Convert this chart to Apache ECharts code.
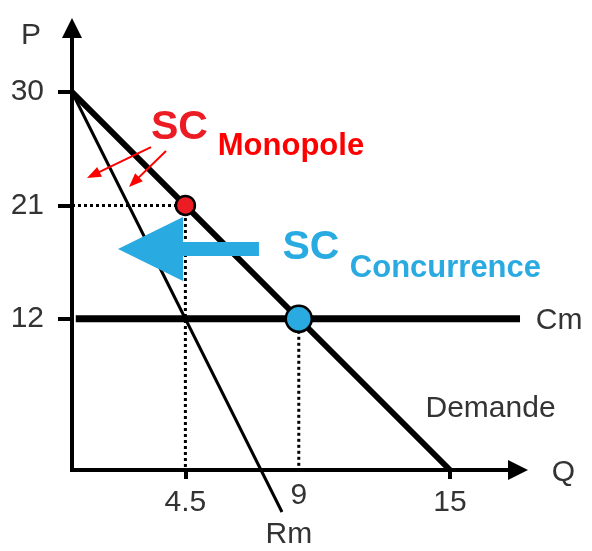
<!DOCTYPE html>
<html>
<head>
<meta charset="utf-8">
<script src="https://cdn.jsdelivr.net/npm/echarts@6/dist/echarts.min.js"></script>
<style>
  html, body { margin: 0; padding: 0; background: #fff; }
  #chart { width: 592px; height: 551px; }
</style>
</head>
<body>
<div id="chart"></div>
<script>
// ---- data ----
const qTicks = [4.5, 15];          // ticks with marks on Q axis
const qExtraLabel = [9];           // label without tick
const pTicks = [12, 21, 30];
const demandQ = [0, 15];
const demandP = [30, 0];
const mrQ = [0, 8.333];
const mrP = [30, -3.333];
const mcQ = [0.15, 17.78];
const mcP = [12, 12];
const monopolyEq = [4.5, 21];
const competitionEq = [9, 12];
const monopolyGuide = [[0, 21], [4.5, 21], [4.5, 0]];
const competitionGuide = [[9, 12], [9, 0]];
// annotation anchors (data coordinates)
const bigArrow = [[7.42, 17.54], [3.115, 17.54]];
const smallArrows = [
  [[3.135, 25.63], [0.845, 23.42]],
  [[3.73, 25.32], [2.46, 22.85]]
];
const textNames = ['P', 'Q', 'Cm', 'Demande', 'Rm', 'SC', 'Monopole', 'SC', 'Concurrence'];
const textPosQ = [-1.627, 19.5, 19.33, 16.61, 8.61, 4.266, 8.69, 9.48, 14.82];
const textPosP = [34.48, -0.2, 11.83, 4.84, -5.16, 27.14, 25.67, 17.66, 16.03];

const FONT = '"Liberation Sans", Arial, sans-serif';
const red = '#ec1c24';
const red2 = '#ff0000';
const blue = '#29abe2';
const grey = '#333333';

const textStyles = [
  { fontSize: 30, color: grey },
  { fontSize: 30, color: grey },
  { fontSize: 30, color: grey },
  { fontSize: 30, color: grey },
  { fontSize: 30, color: grey },
  { fontSize: 41, color: red, fontWeight: 'bold' },
  { fontSize: 31, color: red2, fontWeight: 'bold' },
  { fontSize: 41, color: blue, fontWeight: 'bold' },
  { fontSize: 31, color: blue, fontWeight: 'bold' }
];

const pairs = (xs, ys) => xs.map((x, i) => [x, ys[i]]);

const chart = echarts.init(document.getElementById('chart'), null, { renderer: 'canvas' });

const axisLineStyle = { color: '#000', width: 4, cap: 'square' };
const labelBase = { fontSize: 30, color: grey, fontFamily: FONT };

chart.setOption({
  animation: false,
  backgroundColor: '#fff',
  grid: { left: 72, right: 74, top: 28, bottom: 81, containLabel: false },
  xAxis: [{
    type: 'value', min: 0, max: 17.7,
    axisLine: { show: true, onZero: false, symbol: ['none', 'triangle'], symbolSize: [20, 20], lineStyle: axisLineStyle },
    axisTick: { show: true, customValues: qTicks, length: 9, lineStyle: { color: '#000', width: 4 } },
    axisLabel: Object.assign({ customValues: qTicks, margin: 18 }, labelBase),
    splitLine: { show: false }
  }, {
    type: 'value', min: 0, max: 17.7, position: 'bottom', gridIndex: 0,
    axisLine: { show: false },
    axisTick: { show: false },
    axisLabel: Object.assign({ customValues: qExtraLabel, margin: 11 }, labelBase),
    splitLine: { show: false }
  }],
  yAxis: {
    type: 'value', min: 0, max: 35.08,
    axisLine: { show: true, onZero: false, symbol: ['none', 'triangle'], symbolSize: [20, 20], lineStyle: axisLineStyle },
    axisTick: { show: true, customValues: pTicks, length: 14, lineStyle: { color: '#000', width: 4 } },
    axisLabel: Object.assign({ customValues: pTicks, margin: 28 }, labelBase),
    splitLine: { show: false }
  },
  series: [
    {
      name: 'Demande', type: 'line', data: pairs(demandQ, demandP),
      showSymbol: false, silent: true, z: 3,
      lineStyle: { color: '#000', width: 6 }
    },
    {
      name: 'Rm', type: 'line', data: pairs(mrQ, mrP), clip: false,
      showSymbol: false, silent: true, z: 3,
      lineStyle: { color: '#000', width: 3 }
    },
    {
      name: 'Cm', type: 'line', data: pairs(mcQ, mcP), clip: false,
      showSymbol: false, silent: true, z: 3,
      lineStyle: { color: '#000', width: 7 }
    },
    {
      name: 'guide1', type: 'line', data: monopolyGuide,
      showSymbol: false, silent: true, z: 2,
      lineStyle: { color: '#000', width: 3, type: [3, 3] }
    },
    {
      name: 'guide2', type: 'line', data: competitionGuide,
      showSymbol: false, silent: true, z: 2,
      lineStyle: { color: '#000', width: 3, type: [3, 3] }
    },
    {
      name: 'bigArrow', type: 'lines', coordinateSystem: 'cartesian2d', silent: true, z: 4,
      symbol: ['none', 'triangle'], symbolSize: [0, [64, 65]],
      lineStyle: { color: blue, width: 14, opacity: 1, curveness: 0 },
      data: [{ coords: bigArrow }]
    },
    {
      name: 'smallArrows', type: 'lines', coordinateSystem: 'cartesian2d', silent: true, z: 4,
      symbol: ['none', 'triangle'], symbolSize: [0, [11, 14]],
      lineStyle: { color: red2, width: 2, opacity: 1, curveness: 0 },
      data: smallArrows.map(c => ({ coords: c }))
    },
    {
      name: 'equilibria', type: 'scatter', silent: true, z: 6,
      itemStyle: { borderColor: '#000', borderWidth: 2.5, opacity: 1 },
      data: [
        { value: monopolyEq, symbolSize: 19, itemStyle: { color: red } },
        { value: competitionEq, symbolSize: 26, itemStyle: { color: blue } }
      ]
    },
    {
      name: 'texts', type: 'scatter', silent: true, clip: false, z: 7,
      symbolSize: 0.1, itemStyle: { color: 'rgba(0,0,0,0)', opacity: 1 },
      data: textNames.map((t, i) => ({
        value: [textPosQ[i], textPosP[i]],
        label: Object.assign({
          show: true, position: 'inside', formatter: t, opacity: 1,
          align: 'center', verticalAlign: 'middle', fontFamily: FONT
        }, textStyles[i])
      }))
    }
  ]
});
</script>
</body>
</html>
